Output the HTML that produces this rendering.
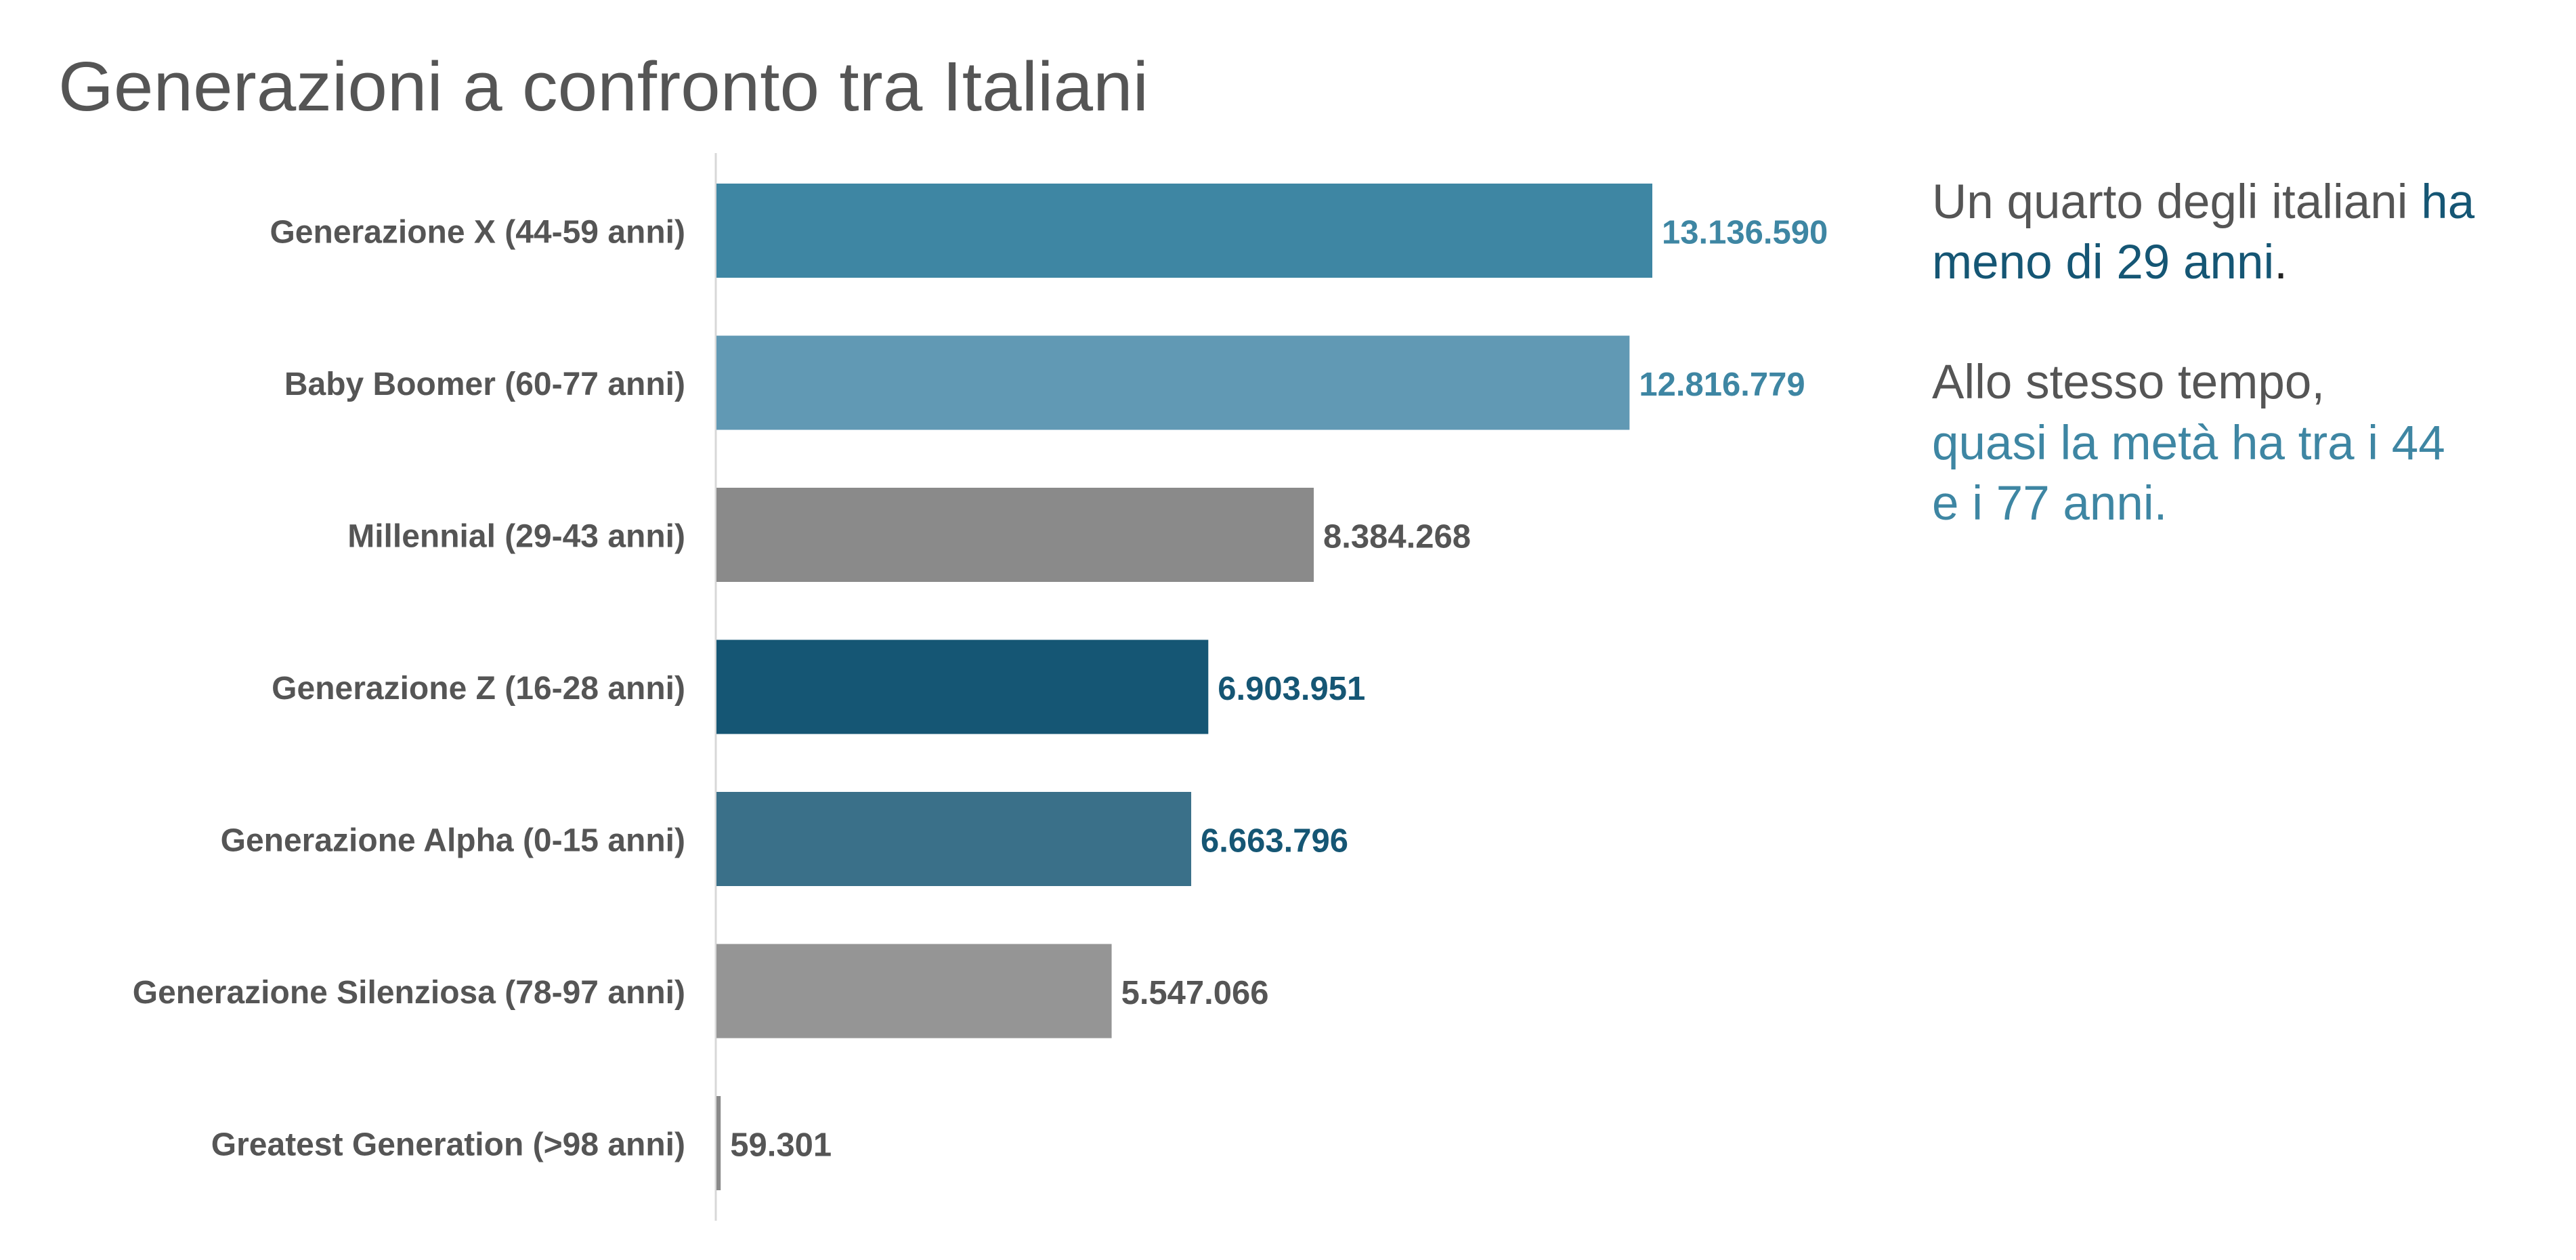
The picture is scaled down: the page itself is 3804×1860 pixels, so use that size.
<!DOCTYPE html>
<html><head><meta charset="utf-8">
<style>
html,body{margin:0;padding:0;background:#fff;}
svg{display:block;font-family:"Liberation Sans",Arial,sans-serif;}
</style></head>
<body>
<svg id="chart" width="3804" height="1860" viewBox="0 0 3804 1860" xmlns="http://www.w3.org/2000/svg">
  <text x="86" y="163" font-size="103" fill="#555" textLength="1610" lengthAdjust="spacingAndGlyphs">Generazioni a confronto tra Italiani</text>
  <line x1="1057" y1="226" x2="1057" y2="1802" stroke="#d8d8d8" stroke-width="3"/>
  <g id="bars"></g>
  <g font-size="71">
    <text x="2853" y="322" fill="#555">Un quarto degli italiani <tspan fill="#155674">ha</tspan></text>
    <text x="2853" y="411" fill="#155674">meno di 29 anni<tspan fill="#222">.</tspan></text>
    <text x="2853" y="588" fill="#555">Allo stesso tempo,</text>
    <text x="2853" y="678" fill="#3e86a3">quasi la metà ha tra i 44</text>
    <text x="2853" y="767" fill="#3e86a3">e i 77 anni.</text>
  </g>
</svg>
<script>
const categories = ["Generazione X (44-59 anni)","Baby Boomer (60-77 anni)","Millennial (29-43 anni)","Generazione Z (16-28 anni)","Generazione Alpha (0-15 anni)","Generazione Silenziosa (78-97 anni)","Greatest Generation (>98 anni)"];
const values = [13136590,12816779,8384268,6903951,6663796,5547066,59301];
const valueLabels = ["13.136.590","12.816.779","8.384.268","6.903.951","6.663.796","5.547.066","59.301"];
const barColors = ["#3e86a3","#6199b4","#8a8a8a","#155674","#3a7089","#959595","#8a8a8a"];
const labelColors = ["#3e86a3","#3e86a3","#555555","#155674","#155674","#555555","#555555"];

const NS = "http://www.w3.org/2000/svg";
const x0 = 1058, pxPerUnit = 1382 / 13136590;
const rowTop = 271, rowPitch = 224.5, barH = 139;
function xScale(v){ return x0 + v * pxPerUnit; }
function yScale(i){ return rowTop + i * rowPitch; }

const g = document.getElementById("bars");
categories.forEach((cat, i) => {
  const y = yScale(i);
  const cy = y + barH / 2;
  const lab = document.createElementNS(NS, "text");
  
  
  lab.setAttribute("x", 1012);
  lab.setAttribute("y", cy + 18);
  lab.setAttribute("text-anchor", "end");
  lab.setAttribute("font-size", "48");
  lab.setAttribute("font-weight", "bold");
  lab.setAttribute("fill", "#555");
  lab.textContent = cat;
  g.appendChild(lab);

  const r = document.createElementNS(NS, "rect");
  
  
  r.setAttribute("x", x0);
  r.setAttribute("y", y);
  r.setAttribute("width", Math.max(xScale(values[i]) - x0, 5));
  r.setAttribute("height", barH);
  r.setAttribute("fill", barColors[i]);
  g.appendChild(r);

  const v = document.createElementNS(NS, "text");
  
  
  v.setAttribute("x", Math.max(xScale(values[i]), x0 + 5) + 14);
  v.setAttribute("y", cy + 19);
  v.setAttribute("font-size", "49");
  v.setAttribute("font-weight", "bold");
  v.setAttribute("fill", labelColors[i]);
  v.textContent = valueLabels[i];
  g.appendChild(v);
});
</script>
</body></html>
